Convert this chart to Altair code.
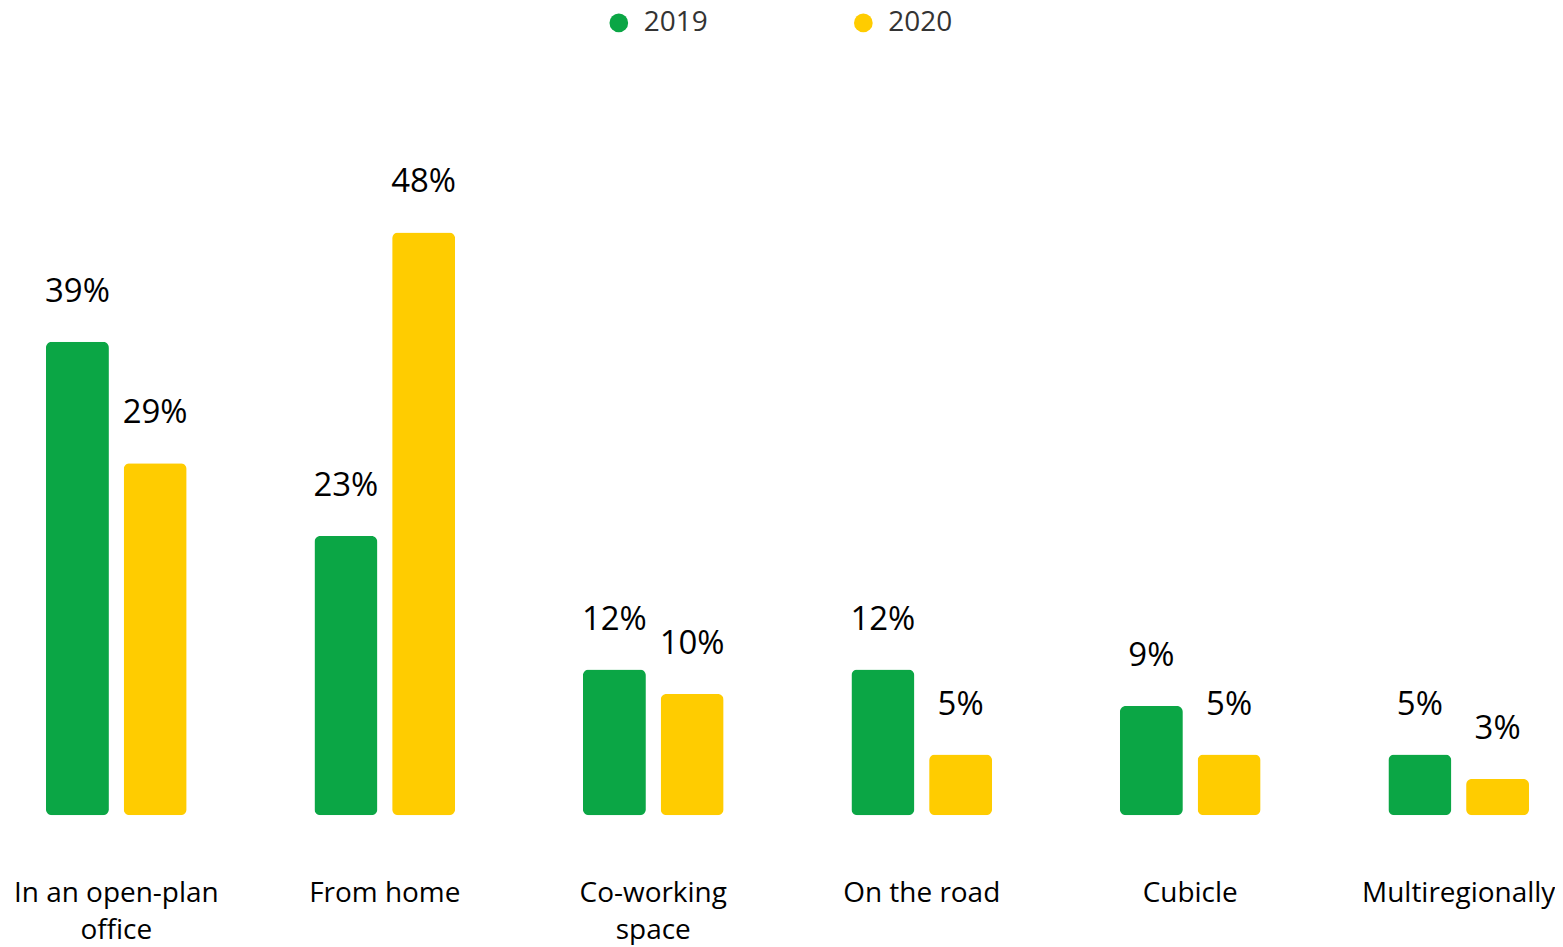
import altair as alt
import pandas as pd

categories = ["In an open-plan\noffice", "From home", "Co-working\nspace", "On the road", "Cubicle", "Multiregionally"]
years = ["2019", "2020"]
values_2019 = [39, 23, 12, 12, 9, 5]
values_2020 = [29, 48, 10, 5, 5, 3]
colors = ["#0ba645", "#ffcc00"]

rows = []
for c, a, b in zip(categories, values_2019, values_2020):
    rows.append({"category": c, "year": "2019", "value": a, "label": f"{a}%"})
    rows.append({"category": c, "year": "2020", "value": b, "label": f"{b}%"})
df = pd.DataFrame(rows)

FONT = "Open Sans"

x_enc = alt.X(
    "category:N",
    sort=categories,
    title=None,
    scale=alt.Scale(paddingInner=0.476, paddingOuter=0.1134, align=0.623),
    axis=alt.Axis(
        domain=False,
        ticks=False,
        labelAngle=0,
        labelFontSize=28,
        labelFont=FONT,
        labelColor="#000000",
        labelPadding=64,
        labelLineHeight=37,
        labelLimit=400,
        labelExpr="split(datum.label, '\\n')",
    ),
)
xoff_enc = alt.XOffset("year:N", sort=years, scale=alt.Scale(paddingInner=0.19, paddingOuter=0))
y_enc = alt.Y("value:Q", axis=None, scale=alt.Scale(domain=[0, 66.4], nice=False, zero=True))

bars = alt.Chart(df).mark_bar(cornerRadius=6).encode(
    x=x_enc,
    xOffset=xoff_enc,
    y=y_enc,
    color=alt.Color(
        "year:N",
        sort=years,
        scale=alt.Scale(domain=years, range=colors),
        legend=alt.Legend(
            title=None,
            orient="none",
            legendX=598,
            legendY=0,
            direction="horizontal",
            symbolType="circle",
            symbolSize=350,
            symbolStrokeWidth=0,
            labelFontSize=28,
            labelFont=FONT,
            labelColor="#333333",
            labelOffset=11,
            columnPadding=141,
            padding=0,
        ),
    ),
)

texts = alt.Chart(df).mark_text(
    baseline="alphabetic", align="center", dy=-40, fontSize=33, font=FONT, color="#000000"
).encode(
    x=x_enc,
    xOffset=xoff_enc,
    y=y_enc,
    text="label:N",
)

chart = (
    alt.layer(bars, texts)
    .properties(width=1547, height=808, padding=0)
    .configure_view(stroke=None)
)

chart.save("out.html", embed_options={"renderer": "svg", "actions": False})
